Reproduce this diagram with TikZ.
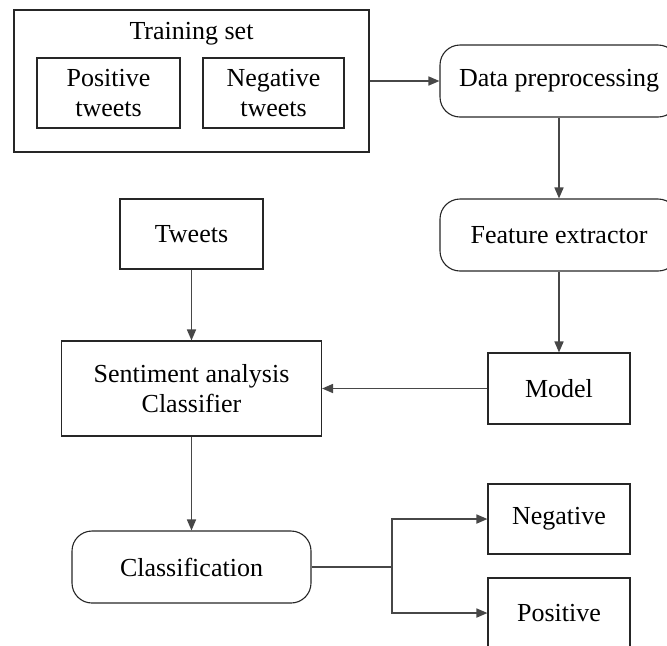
\documentclass[tikz,border=0pt]{standalone}
\usepackage{fontspec}
\setmainfont{Liberation Serif}
\usetikzlibrary{arrows.meta}
\begin{document}
\begin{tikzpicture}[x=0.5pt,y=-0.5pt,
  box/.style={draw=black!85,line width=0.55pt,inner sep=0pt,align=center,font=\fontsize{13}{15}\selectfont},
  rbox/.style={box,rounded corners=10pt},
  label/.style={inner sep=0pt,font=\fontsize{13}{15}\selectfont},
  conn/.style={draw=black!72,line width=0.8pt},
  arr/.style={conn,-{Triangle[length=5.5pt,width=4.5pt]}}]
\useasboundingbox (0,0) rectangle (667,645);
\clip (0,0) rectangle (667,645);
% training set
\node[box,minimum width=177.5pt,minimum height=71pt] (outer) at (191.5,81) {};
\node[label] (title) at (191.5,34) {Training set};
\node[box,minimum width=71.5pt,minimum height=35pt] (pos) at (108.5,93) {Positive\\tweets};
\node[box,minimum width=70.5pt,minimum height=35pt] (neg) at (273.5,93) {Negative\\tweets};
% right column
\node[rbox,minimum width=119pt,minimum height=36pt] (dp) at (559,81) {Data preprocessing};
\node[rbox,minimum width=119pt,minimum height=36pt] (fe) at (559,235) {Feature extractor};
\node[box,minimum width=71pt,minimum height=35.5pt] (model) at (559,388.5) {Model};
% left column
\node[box,minimum width=71.5pt,minimum height=35pt] (tweets) at (191.5,234) {Tweets};
\node[box,minimum width=130pt,minimum height=47.5pt] (sa) at (191.5,388.5) {Sentiment analysis\\Classifier};
\node[rbox,minimum width=119.5pt,minimum height=36pt] (cls) at (191.5,567) {Classification};
% outputs
\node[box,minimum width=71pt,minimum height=35pt] (negb) at (559,519) {Negative};
\node[box,minimum width=71pt,minimum height=35pt] (posb) at (559,613) {Positive};
\coordinate (j) at (392,567);
% connectors
\draw[arr] (outer.east) -- (dp.west);
\draw[arr] (dp.south) -- (fe.north);
\draw[arr] (fe.south) -- (model.north);
\draw[arr] (tweets.south) -- (sa.north);
\draw[arr] (model.west) -- (sa.east);
\draw[arr] (sa.south) -- (cls.north);
\draw[conn] (cls.east) -- (j);
\draw[arr] (j) |- (negb.west);
\draw[arr] (j) |- (posb.west);
\end{tikzpicture}
\end{document}
